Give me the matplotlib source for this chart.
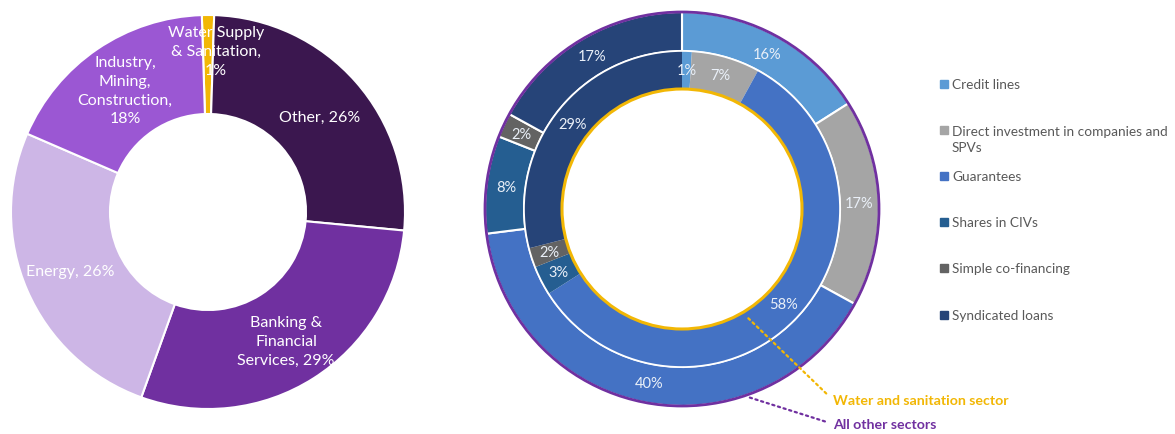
import matplotlib

matplotlib.use("AGG")

import matplotlib.pyplot as plt  # isort:skip
from matplotlib.patches import Circle, Rectangle  # isort:skip

W, H = 1175, 435

# left donut: split of all commitments by sector
sector_names = [
    "Water Supply\n& Sanitation",
    "Other",
    "Banking &\nFinancial\nServices",
    "Energy",
    "Industry,\nMining,\nConstruction",
]
sector_values = [1, 26, 29, 26, 18]

# right donut: instrument mix, inner ring = water sector, outer ring = other sectors
instruments = [
    "Credit lines",
    "Direct investment in companies and\nSPVs",
    "Guarantees",
    "Shares in CIVs",
    "Simple co-financing",
    "Syndicated loans",
]
water_shares = [1, 7, 58, 3, 2, 29]
other_shares = [16, 17, 40, 8, 2, 17]

SECTOR_COLORS = ["#F2B705", "#3B174F", "#7030A0", "#CDB6E6", "#9B57D3"]
INSTR_COLORS = ["#5B9BD5", "#A5A5A5", "#4472C4", "#255E91", "#636363", "#264478"]
YELLOW = "#F2B705"
PURPLE = "#7030A0"
FONT = ["Lato", "DejaVu Sans"]

plt.rcParams["font.family"] = FONT

fig = plt.figure(figsize=(W / 100, H / 100), dpi=100)
ax = fig.add_axes([0, 0, 1, 1])

# ---- left donut
left_c = (208, H - 213)
ax.pie(
    sector_values,
    colors=SECTOR_COLORS,
    startangle=90 + sector_values[0] * 3.6 / 2,
    counterclock=False,
    center=left_c,
    radius=197,
    wedgeprops=dict(width=99, edgecolor="white", linewidth=1.5),
)

# label anchor points (pixels from top-left), Excel "best fit" style
label_pos = [(216, 52), (320, 118), (286, 342), (70, 272), (125, 91)]
seps = ["\n", " ", " ", " ", "\n"]
for name, val, sep, (px, py) in zip(sector_names, sector_values, seps, label_pos):
    ax.text(
        px, H - py, f"{name},{sep}{val}%",
        ha="center", va="center", color="white", fontsize=11.5,
        linespacing=1.45,
    )

# ---- right donut
right_c = (682, H - 210)
pct_fmt = lambda p: f"{p:.0f}%"
ax.pie(
    other_shares,
    colors=INSTR_COLORS,
    startangle=90,
    counterclock=False,
    center=right_c,
    radius=197,
    wedgeprops=dict(width=39, edgecolor="white", linewidth=1.5),
    autopct=pct_fmt,
    pctdistance=0.9,
    textprops=dict(color="#EAF0F8", fontsize=10.5),
)
ax.pie(
    water_shares,
    colors=INSTR_COLORS,
    startangle=90,
    counterclock=False,
    center=right_c,
    radius=158,
    wedgeprops=dict(width=38, edgecolor="none"),
    autopct=pct_fmt,
    pctdistance=0.88,
    textprops=dict(color="#EAF0F8", fontsize=10.5),
)
ax.add_patch(Circle(right_c, 158, fill=False, ec="white", lw=1.2))
ax.add_patch(Circle(right_c, 197, fill=False, ec=PURPLE, lw=2))
ax.add_patch(Circle(right_c, 120, fill=False, ec=YELLOW, lw=2.2))

# leader lines + captions
for text, color, xy, xytext in [
    ("Water and sanitation sector", YELLOW, (747, 318), (833, 401)),
    ("All other sectors", PURPLE, (748, 398), (833, 425)),
]:
    ax.annotate(
        text, xy=(xy[0], H - xy[1]), xytext=(xytext[0], H - xytext[1]),
        ha="left", va="center", color=color, fontsize=10.2, fontweight="bold",
        arrowprops=dict(
            arrowstyle="-", linestyle=":", color=color, lw=1.6,
            shrinkA=4, shrinkB=0, relpos=(0, 0.5),
        ),
    )

# legend
legend_y = [85, 131, 177, 223, 269, 316]
for name, color, ly in zip(instruments, INSTR_COLORS, legend_y):
    ax.add_patch(Rectangle((940, H - ly - 4), 8, 8, color=color))
    n_lines = name.count("\n") + 1
    ax.text(952, H - ly - 9 * (n_lines - 1), name, ha="left", va="center",
            color="#595959", fontsize=9.8, linespacing=1.5)

ax.set_xlim(0, W)
ax.set_ylim(0, H)
ax.set_aspect("equal")
ax.axis("off")

plt.savefig("out.png", dpi=100)
plt.close()
